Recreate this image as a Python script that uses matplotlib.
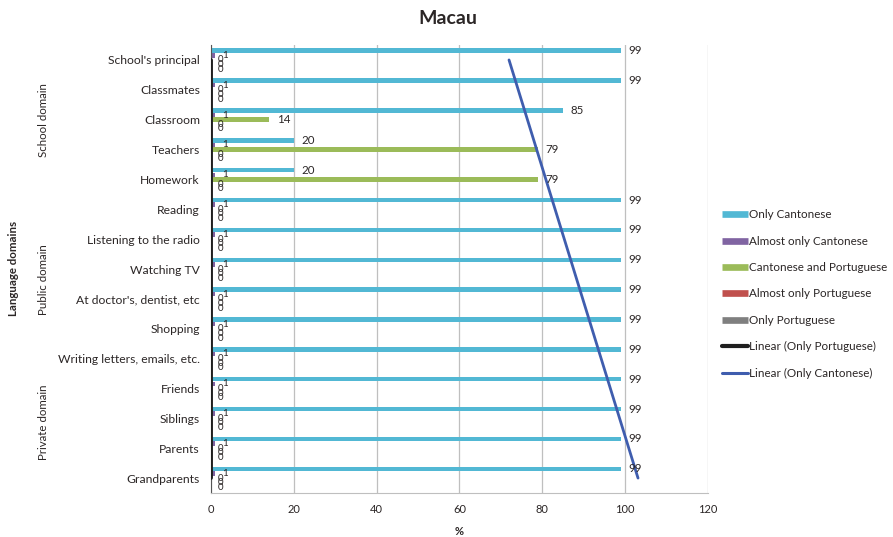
import numpy as np
import matplotlib
matplotlib.use("Agg")
import matplotlib.pyplot as plt
from matplotlib.lines import Line2D

plt.rcParams['font.family'] = ['Lato', 'DejaVu Sans']

categories = ["School's principal", "Classmates", "Classroom", "Teachers", "Homework",
              "Reading", "Listening to the radio", "Watching TV", "At doctor's, dentist, etc",
              "Shopping", "Writing letters, emails, etc.", "Friends", "Siblings", "Parents",
              "Grandparents"]

only_cantonese = [99, 99, 85, 20, 20, 99, 99, 99, 99, 99, 99, 99, 99, 99, 99]
almost_only_cantonese = [1, 1, 1, 1, 1, 1, 1, 1, 1, 1, 1, 1, 1, 1, 1]
cantonese_and_portuguese = [0, 0, 14, 79, 79, 0, 0, 0, 0, 0, 0, 0, 0, 0, 0]
almost_only_portuguese = [0, 0, 0, 0, 0, 0, 0, 0, 0, 0, 0, 0, 0, 0, 0]
only_portuguese = [0, 0, 0, 0, 0, 0, 0, 0, 0, 0, 0, 0, 0, 0, 0]

series_names = ["Only Cantonese", "Almost only Cantonese", "Cantonese and Portuguese",
                "Almost only Portuguese", "Only Portuguese"]
series_values = [only_cantonese, almost_only_cantonese, cantonese_and_portuguese,
                 almost_only_portuguese, only_portuguese]
series_colors = ["#52B8D4", "#8064A2", "#9BBB59", "#C0504D", "#7F7F7F"]

domains = ["School domain", "Public domain", "Private domain"]
x_ticks = [0, 20, 40, 60, 80, 100, 120]

text_color = "#2b2626"

fig = plt.figure(figsize=(8.93, 5.37), dpi=100)
ax = fig.add_axes([0.2363, 0.0819, 0.5565, 0.8343])

n = len(categories)
y = np.arange(n)
step = 0.155
bar_h = 0.15

for i, (name, vals, col) in enumerate(zip(series_names, series_values, series_colors)):
    pos = y + (i - 2) * step
    ax.barh(pos, vals, height=bar_h, color=col, label=name, zorder=2)
    for p, v in zip(pos, vals):
        big = v > 9
        ax.annotate(str(v), xy=(v, p), xytext=(5.5 if big else 5, 0),
                    textcoords="offset points", va="center", ha="left",
                    fontsize=8.3 if big else 7, color=text_color, zorder=4)

# linear trendlines fitted across the category positions
for vals, col, lw in [(only_portuguese, "#1f1f1f", 2.8),
                      (only_cantonese, "#3F5DAE", 2.0)]:
    k, b = np.polyfit(y, vals, 1)
    ends = np.array([y[0], y[-1]])
    ax.plot(k * ends + b, ends, color=col, lw=lw, solid_capstyle="round", zorder=3)

ax.set_xlim(0, 120)
ax.set_ylim(n - 0.5, -0.5)
ax.set_xticks(x_ticks)
ax.set_xticklabels([str(t) for t in x_ticks])
ax.set_yticks(y)
ax.set_yticklabels(categories, fontsize=8.7)
ax.tick_params(axis="both", length=0, labelsize=8, colors=text_color)
ax.tick_params(axis="y", labelsize=8.7, pad=8)
ax.tick_params(axis="x", pad=8)
ax.xaxis.grid(True, color="#BFBFBF", lw=0.9, zorder=0)
for s in ["top", "right"]:
    ax.spines[s].set_visible(False)
ax.spines["bottom"].set_color("#BFBFBF")
ax.spines["left"].set_color("#555555")

ax.set_xlabel("%", fontsize=8, fontweight="bold", color=text_color, labelpad=8)
fig.text(0.5017, 0.966, "Macau", fontsize=14, fontweight="bold", color=text_color,
         ha="center", va="center")
fig.text(0.015, 1 - 268 / 537, "Language domains", rotation=90, fontsize=8.3,
         fontweight="bold", color=text_color, ha="center", va="center")
for name, yc in zip(domains, [120, 280, 422]):
    fig.text(0.049, 1 - yc / 537, name, rotation=90, fontsize=8.3, color=text_color,
             ha="center", va="center")

handles = [Line2D([0], [0], color=c, lw=4.8, solid_capstyle="butt") for c in series_colors]
handles += [Line2D([0], [0], color="#1f1f1f", lw=3, solid_capstyle="round"),
            Line2D([0], [0], color="#3F5DAE", lw=2.2, solid_capstyle="round")]
labels = series_names + ["Linear (Only Portuguese)", "Linear (Only Cantonese)"]
fig.legend(handles, labels, loc="upper left", bbox_to_anchor=(0.797, 0.630),
           frameon=False, fontsize=8.4, labelspacing=1.32, handlelength=2.2,
           handletextpad=0.12, labelcolor=text_color)

fig.savefig("out.png", dpi=100)
